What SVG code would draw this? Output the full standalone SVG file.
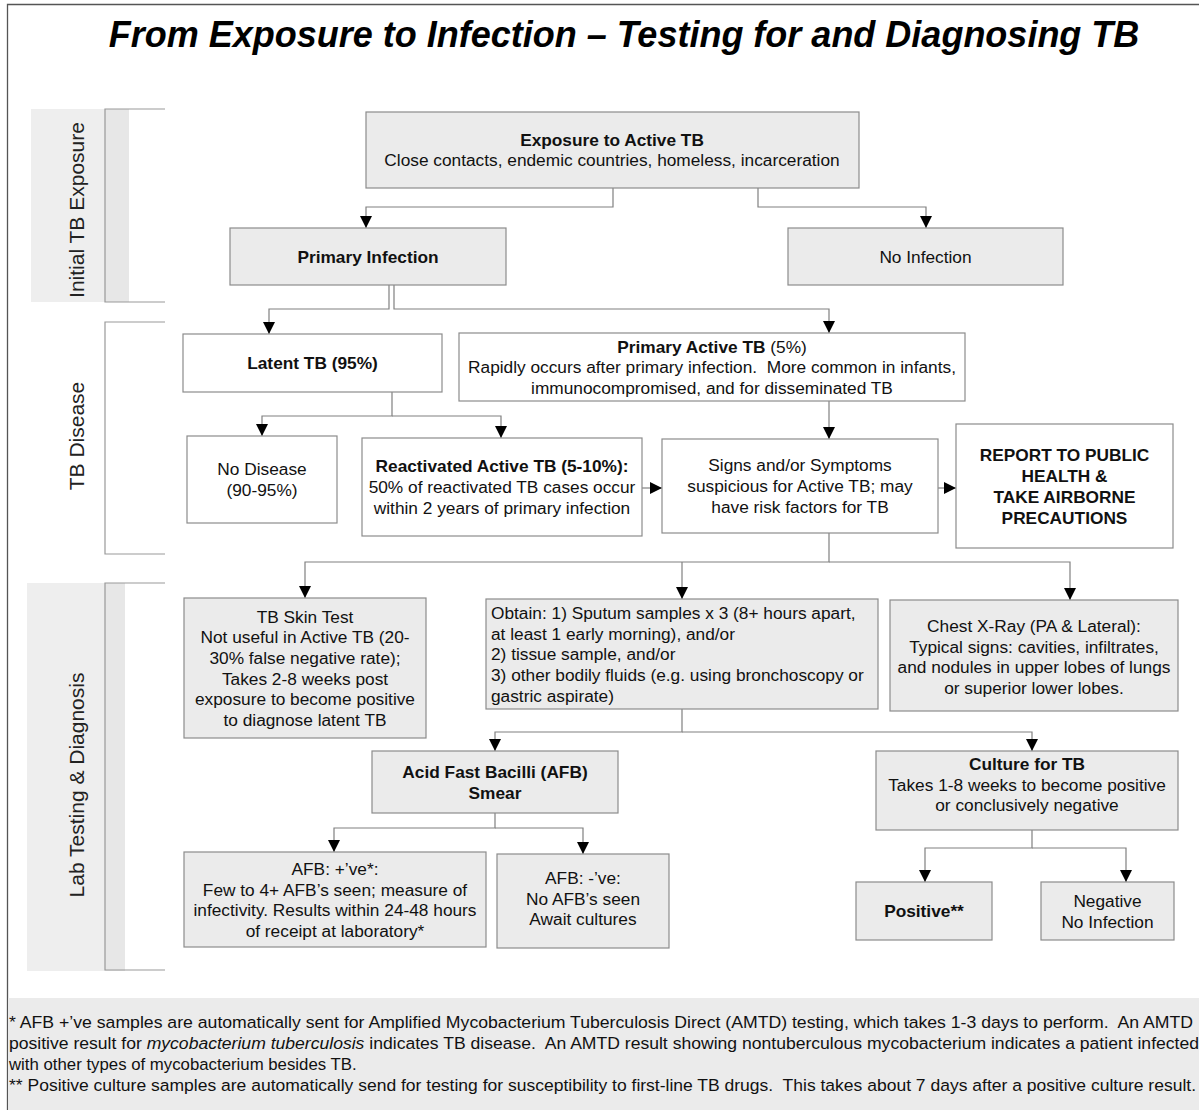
<svg xmlns="http://www.w3.org/2000/svg" width="1199" height="1110" viewBox="0 0 1199 1110">
<style>
text{font-family:"Liberation Sans",Arial,sans-serif;font-size:17.3px;fill:#111;}
.c{text-anchor:middle;}
.b{font-weight:bold;}
.g{fill:#ebebeb;stroke:#8c8c8c;stroke-width:1.2;}
.w{fill:#fff;stroke:#8c8c8c;stroke-width:1.2;}
.side{font-size:21px;text-anchor:middle;fill:#222;}
.br{fill:none;stroke:#999;stroke-width:1.2;}
.cn{fill:none;stroke:#808080;stroke-width:1.2;marker-end:url(#ah);}
.fn{font-size:16.8px;white-space:pre;}
.pre{white-space:pre;}
</style>
<defs>
<marker id="ah" markerUnits="userSpaceOnUse" markerWidth="12" markerHeight="12" viewBox="0 0 12 12" refX="12" refY="6" orient="auto">
<path d="M0,0 L12,6 L0,12 z" fill="#000"/>
</marker>
</defs>
<rect x="0" y="0" width="1199" height="1110" fill="#fff"/>
<path d="M7.5,1110 V4.5 H1199" fill="none" stroke="#555" stroke-width="1.3"/>
<text x="624" y="47" class="c b" style="font-size:36px;font-style:italic;fill:#000">From Exposure to Infection – Testing for and Diagnosing TB</text>

<g id="lane-initial">
<rect x="31" y="109" width="98" height="193" fill="#eeeeee"/>
<rect x="105" y="109" width="24" height="193" fill="#e7e7e7"/>
<path class="br" d="M165,109 H105 V302 H165"/>
<text class="side" transform="translate(84,210) rotate(-90)">Initial TB Exposure</text>
</g>
<g id="lane-disease">
<path class="br" d="M165,322 H105 V554 H165"/>
<text class="side" transform="translate(84,436) rotate(-90)">TB Disease</text>
</g>
<g id="lane-lab">
<rect x="27" y="583" width="98" height="388" fill="#eeeeee"/>
<rect x="105" y="583" width="20" height="388" fill="#e7e7e7"/>
<path class="br" d="M165,583 H105 V970 H165"/>
<text class="side" transform="translate(84,785) rotate(-90)">Lab Testing &amp; Diagnosis</text>
</g>

<g id="connectors">
<path class="cn" d="M613,188 V207 H366 V228"/>
<path class="cn" d="M758,188 V207 H926 V228"/>
<path class="cn" d="M389,285 V309 H269 V334"/>
<path class="cn" d="M394,285 V309 H829 V333"/>
<path class="cn" d="M392,392 V416 H262 V436"/>
<path class="cn" d="M392,416 H501 V438"/>
<path class="cn" d="M829,401 V439"/>
<path class="cn" d="M642,488 H662"/>
<path class="cn" d="M938,488 H956"/>
<path class="cn" d="M829,533 V562 H305 V598"/>
<path class="cn" d="M682,562 V599"/>
<path class="cn" d="M829,562 H1070 V600"/>
<path class="cn" d="M682,709 V732 H495 V751"/>
<path class="cn" d="M682,732 H1032 V751"/>
<path class="cn" d="M495,813 V828 H334 V852"/>
<path class="cn" d="M495,828 H583 V854"/>
<path class="cn" d="M1032,830 V848 H925 V882"/>
<path class="cn" d="M1032,848 H1126 V882"/>
</g>

<g id="exposure">
<rect class="g" x="366" y="112" width="493" height="76"/>
<text x="612" y="145.6" class="c b">Exposure to Active TB</text>
<text x="612" y="166.3" class="c">Close contacts, endemic countries, homeless, incarceration</text>
</g>
<g id="primary-infection">
<rect class="g" x="230" y="228" width="276" height="57"/>
<text x="368" y="262.5" class="c b">Primary Infection</text>
</g>
<g id="no-infection">
<rect class="g" x="788" y="228" width="275" height="57"/>
<text x="925.5" y="262.5" class="c">No Infection</text>
</g>
<g id="latent-tb">
<rect class="w" x="183" y="334" width="259" height="58"/>
<text x="312.5" y="369" class="c b">Latent TB (95%)</text>
</g>
<g id="primary-active-tb">
<rect class="w" x="459" y="333" width="506" height="68"/>
<text x="712" y="352.5" class="c"><tspan class="b">Primary Active TB</tspan> (5%)</text>
<text x="712" y="373.2" class="c pre">Rapidly occurs after primary infection.  More common in infants,</text>
<text x="712" y="393.9" class="c">immunocompromised, and for disseminated TB</text>
</g>
<g id="no-disease">
<rect class="w" x="187" y="436" width="150" height="87"/>
<text x="262" y="475" class="c">No Disease</text>
<text x="262" y="496" class="c">(90-95%)</text>
</g>
<g id="reactivated">
<rect class="w" x="362" y="438" width="280" height="98"/>
<text x="502" y="472.3" class="c b">Reactivated Active TB (5-10%):</text>
<text x="502" y="493" class="c">50% of reactivated TB cases occur</text>
<text x="502" y="513.7" class="c">within 2 years of primary infection</text>
</g>
<g id="signs">
<rect class="w" x="662" y="439" width="276" height="94"/>
<text x="800" y="471.3" class="c">Signs and/or Symptoms</text>
<text x="800" y="492" class="c">suspicious for Active TB; may</text>
<text x="800" y="512.7" class="c">have risk factors for TB</text>
</g>
<g id="report">
<rect class="w" x="956" y="424" width="217" height="124"/>
<text x="1064.5" y="461" class="c b">REPORT TO PUBLIC</text>
<text x="1064.5" y="482" class="c b">HEALTH &amp;</text>
<text x="1064.5" y="503" class="c b">TAKE AIRBORNE</text>
<text x="1064.5" y="523.5" class="c b">PRECAUTIONS</text>
</g>
<g id="tb-skin-test">
<rect class="g" x="184" y="598" width="242" height="140"/>
<text x="305" y="622.5" class="c">TB Skin Test</text>
<text x="305" y="643.2" class="c">Not useful in Active TB (20-</text>
<text x="305" y="663.9" class="c">30% false negative rate);</text>
<text x="305" y="684.6" class="c">Takes 2-8 weeks post</text>
<text x="305" y="705.3" class="c">exposure to become positive</text>
<text x="305" y="726" class="c">to diagnose latent TB</text>
</g>
<g id="obtain">
<rect class="g" x="486" y="599" width="392" height="110"/>
<text x="491" y="618.8">Obtain: 1) Sputum samples x 3 (8+ hours apart,</text>
<text x="491" y="639.5">at least 1 early morning), and/or</text>
<text x="491" y="660.2">2) tissue sample, and/or</text>
<text x="491" y="680.9">3) other bodily fluids (e.g. using bronchoscopy or</text>
<text x="491" y="701.6">gastric aspirate)</text>
</g>
<g id="chest-xray">
<rect class="g" x="890" y="600" width="288" height="111"/>
<text x="1034" y="632" class="c">Chest X-Ray (PA &amp; Lateral):</text>
<text x="1034" y="652.7" class="c">Typical signs: cavities, infiltrates,</text>
<text x="1034" y="673.4" class="c">and nodules in upper lobes of lungs</text>
<text x="1034" y="694.1" class="c">or superior lower lobes.</text>
</g>
<g id="afb-smear">
<rect class="g" x="372" y="751" width="246" height="62"/>
<text x="495" y="777.8" class="c b">Acid Fast Bacilli (AFB)</text>
<text x="495" y="798.5" class="c b">Smear</text>
</g>
<g id="culture">
<rect class="g" x="876" y="751" width="302" height="79"/>
<text x="1027" y="770" class="c b">Culture for TB</text>
<text x="1027" y="790.7" class="c">Takes 1-8 weeks to become positive</text>
<text x="1027" y="811.4" class="c">or conclusively negative</text>
</g>
<g id="afb-positive">
<rect class="g" x="184" y="852" width="302" height="95"/>
<text x="335" y="875" class="c">AFB: +’ve*:</text>
<text x="335" y="895.7" class="c">Few to 4+ AFB’s seen; measure of</text>
<text x="335" y="916.4" class="c">infectivity. Results within 24-48 hours</text>
<text x="335" y="937.1" class="c">of receipt at laboratory*</text>
</g>
<g id="afb-negative">
<rect class="g" x="497" y="854" width="172" height="94"/>
<text x="583" y="884" class="c">AFB: -’ve:</text>
<text x="583" y="904.7" class="c">No AFB’s seen</text>
<text x="583" y="925.4" class="c">Await cultures</text>
</g>
<g id="positive">
<rect class="g" x="856" y="882" width="136" height="58"/>
<text x="924" y="917" class="c b">Positive**</text>
</g>
<g id="negative">
<rect class="g" x="1041" y="882" width="133" height="58"/>
<text x="1107.5" y="907" class="c">Negative</text>
<text x="1107.5" y="927.5" class="c">No Infection</text>
</g>

<g id="footnotes">
<rect x="8" y="998" width="1191" height="112" fill="#ebebeb"/>
<text class="fn" x="9" y="1028" textLength="1184" lengthAdjust="spacingAndGlyphs">* AFB +’ve samples are automatically sent for Amplified Mycobacterium Tuberculosis Direct (AMTD) testing, which takes 1-3 days to perform.  An AMTD</text>
<text class="fn" x="9" y="1049" textLength="1190" lengthAdjust="spacingAndGlyphs">positive result for <tspan font-style="italic">mycobacterium tuberculosis</tspan> indicates TB disease.  An AMTD result showing nontuberculous mycobacterium indicates a patient infected</text>
<text class="fn" x="9" y="1070">with other types of mycobacterium besides TB.</text>
<text class="fn" x="9" y="1091" textLength="1187" lengthAdjust="spacingAndGlyphs">** Positive culture samples are automatically send for testing for susceptibility to first-line TB drugs.  This takes about 7 days after a positive culture result.</text>
</g>
</svg>
